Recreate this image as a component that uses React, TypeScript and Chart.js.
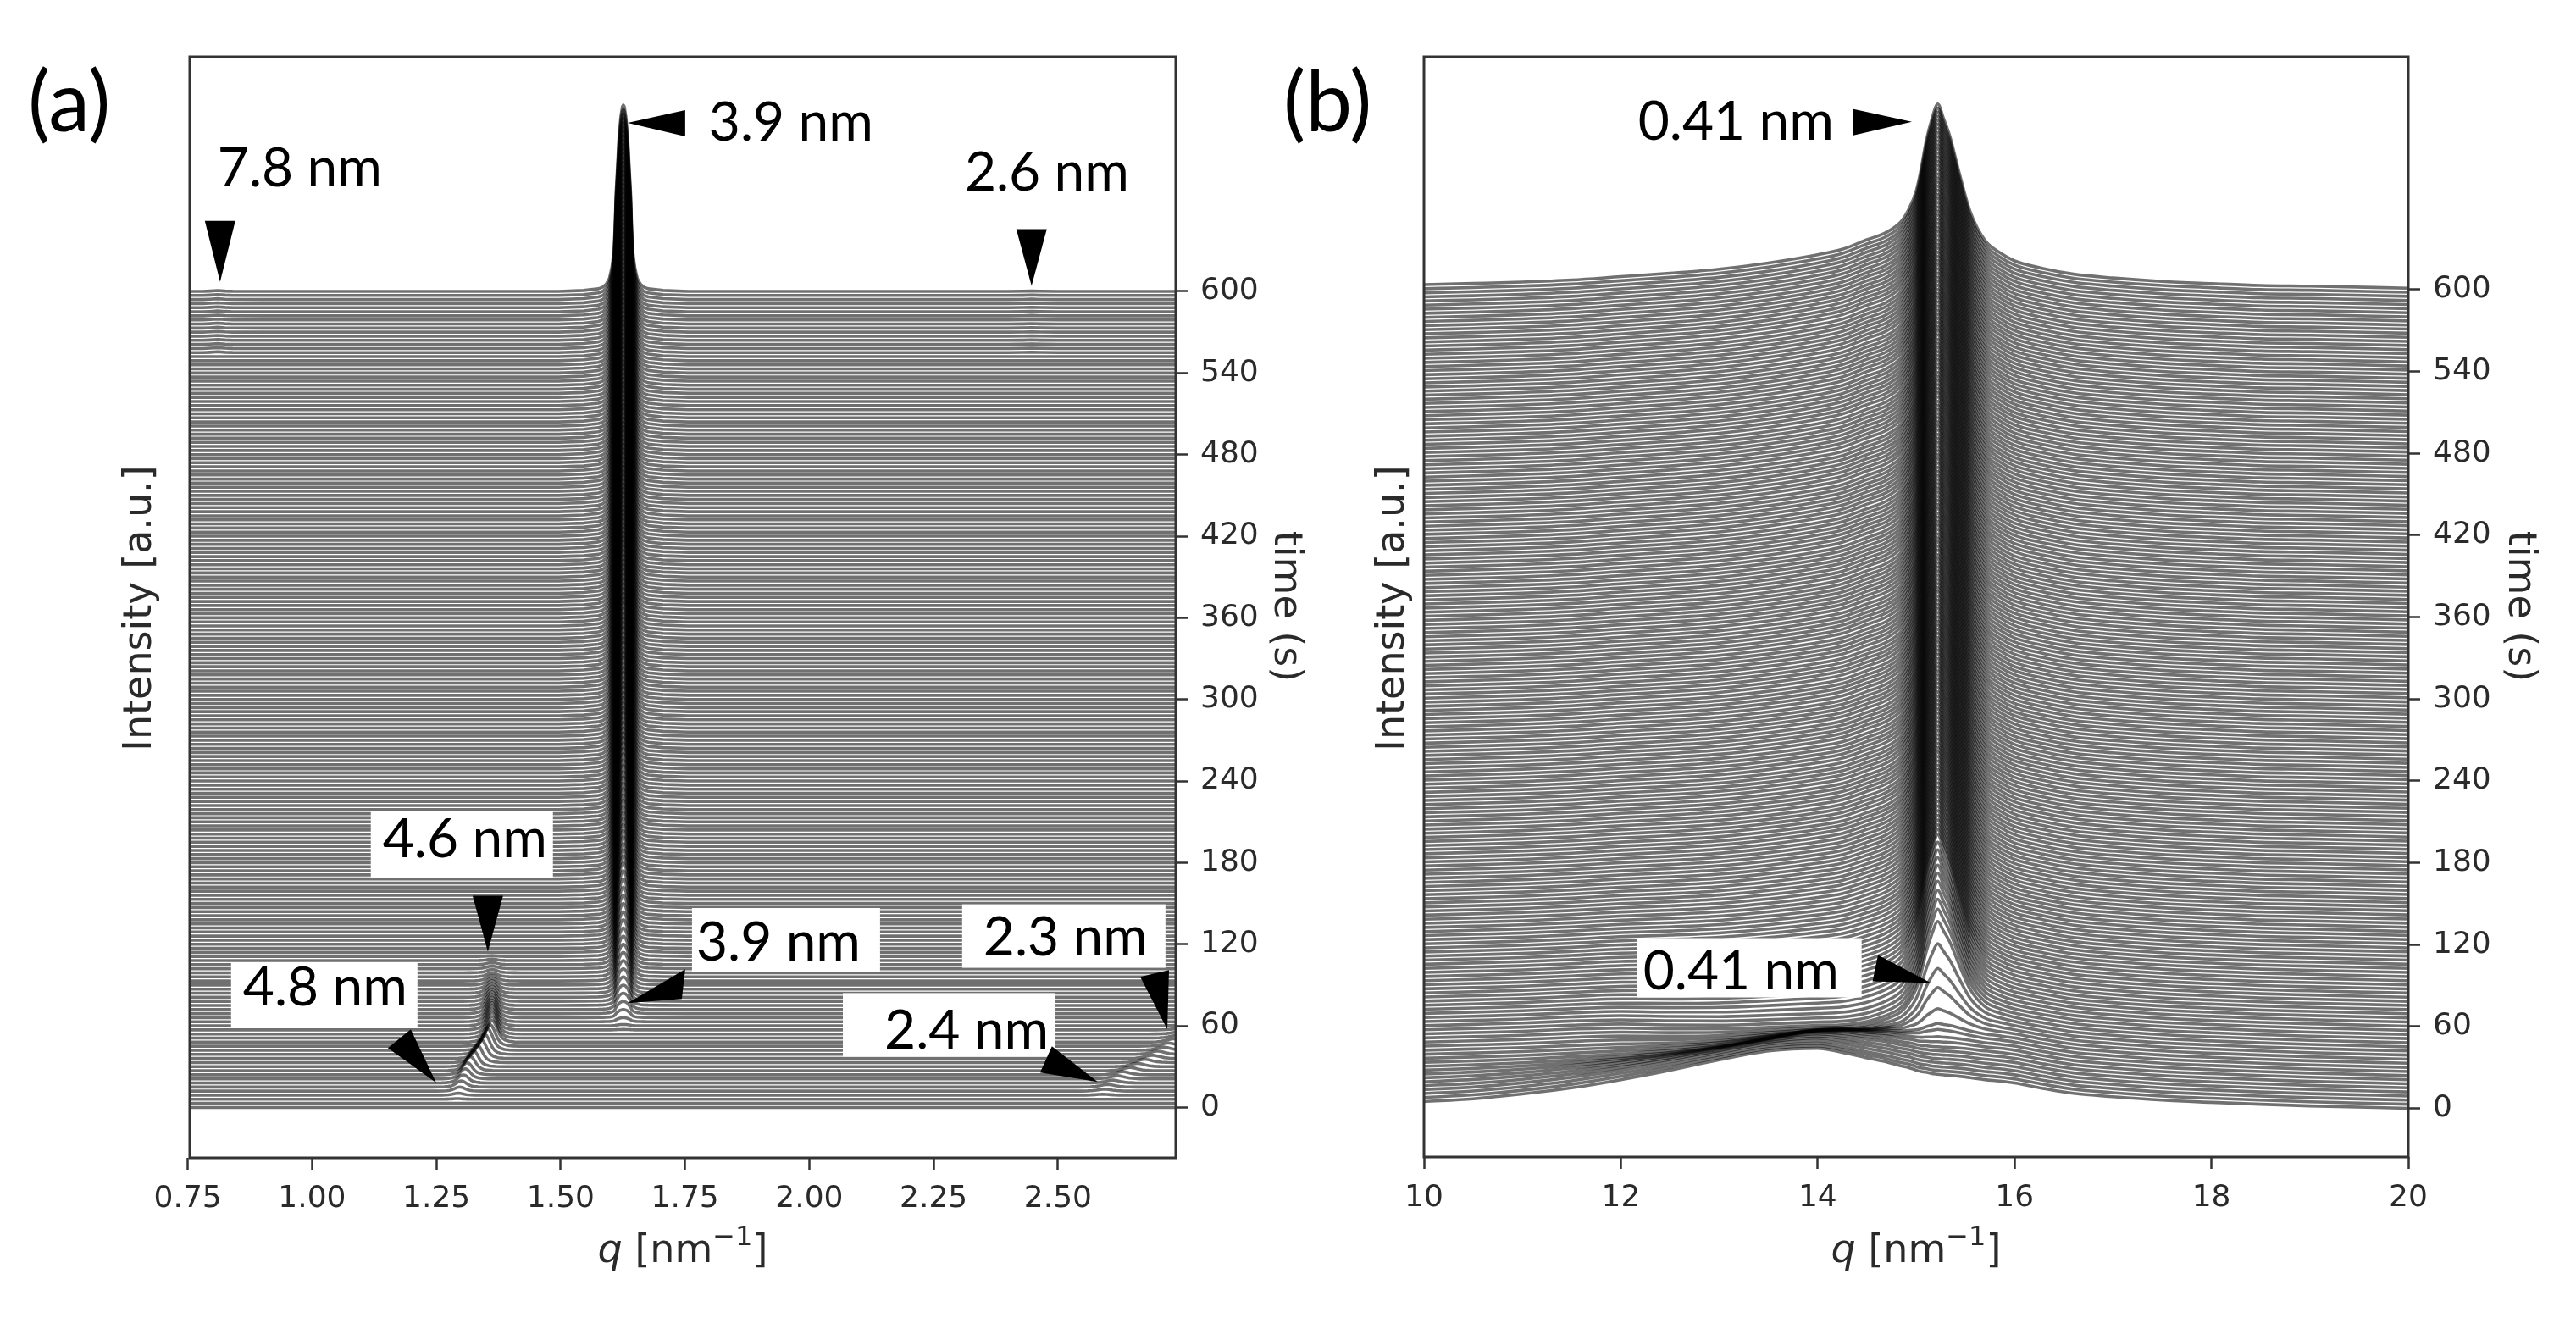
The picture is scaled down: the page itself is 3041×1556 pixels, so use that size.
import React, { useEffect, useRef } from "react";
import { Chart, registerables } from "chart.js";

Chart.register(...registerables);

// Time stamp of every trace of the waterfall (s); one trace every 3 s, both panels.
const traceTimes = [
  0,3,6,9,12,15,18,21,24,27,30,33,36,39,42,45,48,51,54,57,60,63,66,69,72,75,78,81,84,87,90,93,96,99,
  102,105,108,111,114,117,120,123,126,129,132,135,138,141,144,147,150,153,156,159,162,165,168,171,174,177,
  180,183,186,189,192,195,198,201,204,207,210,213,216,219,222,225,228,231,234,237,240,243,246,249,252,255,
  258,261,264,267,270,273,276,279,282,285,288,291,294,297,300,303,306,309,312,315,318,321,324,327,330,333,
  336,339,342,345,348,351,354,357,360,363,366,369,372,375,378,381,384,387,390,393,396,399,402,405,408,411,
  414,417,420,423,426,429,432,435,438,441,444,447,450,453,456,459,462,465,468,471,474,477,480,483,486,489,
  492,495,498,501,504,507,510,513,516,519,522,525,528,531,534,537,540,543,546,549,552,555,558,561,564,567,
  570,573,576,579,582,585,588,591,594,597,600,
];

const timeTicks = [0, 60, 120, 180, 240, 300, 360, 420, 480, 540, 600];
const qTicksA = [0.75, 1.0, 1.25, 1.5, 1.75, 2.0, 2.25, 2.5];
const qTicksB = [10, 12, 14, 16, 18, 20];

// Panel (a): flat stretches between the peaks (q, intensity)
const flatLeftQA = [0.7, 0.78, 0.795, 0.81, 0.825, 0.84, 0.9, 1.0, 1.2];
const flatLeftIA = [0, 0, 0.25, 0.6, 0.25, 0.05, 0, 0, 0];
const flatMidQA = [1.45, 1.48];
const flatRightQA = [1.78, 2.0, 2.3, 2.4, 2.43, 2.447, 2.465, 2.5];
const flatRightIA = [0, 0, 0, 0, 0.12, 0.3, 0.12, 0];
const flatEndQA = [2.85];

// Panel (a): 3.9 nm peak, half profile (distance from the centre, fraction of the height)
const mainCentreA = 1.626;
const mainHalfDqA = [0.13, 0.08, 0.05, 0.041, 0.034, 0.028, 0.023, 0.0187, 0.0165, 0.0146, 0.0115, 0.0087, 0.005, 0.002, 0];
const mainHalfFracA = [0, 0.005, 0.014, 0.023, 0.04, 0.07, 0.13, 0.22, 0.36, 0.53, 0.68, 0.83, 0.94, 0.99, 1];
// Height of the 3.9 nm peak in each trace (in units of the time axis)
const mainHeightA = [
  0,0,0,0,0,0,0,0,0,0,0,0,0,0,0,0,0,0,0,0.3,1,3,6,9,12,15,18,21,24,27,30,33,36,39,42,45,48,51,54,57,60,
  62,63.5,65,67,68.5,70,71.5,73,74.5,76,77,78.5,79.5,81,82,83.5,84.5,86,87,88,
  89,89.5,90,91,91.5,92.5,93,93.5,94.5,95,96,96.5,97,98,98.5,99,100,100.5,101,102,
  102.5,103,104,104.5,105,105.5,106,107,107.5,108,108.5,109,109.5,110,110.5,111,111.5,112,112.5,113,
  113.3,113.5,113.8,114,114.2,114.5,114.7,115,115.2,115.4,115.7,115.9,116.2,116.4,116.6,116.9,117.1,117.4,117.6,117.8,
  118.1,118.3,118.6,118.8,119,119.3,119.5,119.8,120,120.2,120.5,120.7,121,121.2,121.4,121.7,121.9,122.2,122.4,122.6,
  122.9,123.1,123.4,123.6,123.8,124.1,124.3,124.6,124.8,125,125.3,125.5,125.8,126,126.2,126.5,126.7,127,127.2,127.4,
  127.7,127.9,128.2,128.4,128.6,128.9,129.1,129.4,129.6,129.8,130.1,130.3,130.6,130.8,131,131.3,131.5,131.8,132,132.2,
  132.5,132.7,133,133.2,133.4,133.7,133.9,134.2,134.4,134.6,134.9,135.1,135.4,135.6,135.8,136.1,136.3,136.6,136.8,137,
];

// Panel (a): 4.8 -> 4.6 nm peak, half profile, then centre and height per trace
const lamHalfDqA = [0.06, 0.045, 0.034, 0.026, 0.02, 0.016, 0.012, 0.008, 0.004, 0];
const lamHalfFracA = [0, 0.01, 0.04, 0.1, 0.2, 0.33, 0.52, 0.75, 0.93, 1];
const lamCentreA = [1.29,1.29,1.292,1.294,1.297,1.3,1.304,1.308,1.312,1.318,1.324,1.332,1.34,1.347,1.353,1.358,1.362];
const lamHeightA = [0,0,0.5,1.5,3,4.5,6,7.5,9,10.5,12,13,14,15,16,16,16,16,16,15.5,15,14,13,12,11,10,9,8,7,6,5,4,3,2.5,2,1.5,1,0.5,0];

// Panel (a): 2.4 -> 2.3 nm peak, half profile, then centre and height per trace
const smallHalfDqA = [0.06, 0.045, 0.034, 0.024, 0.016, 0.008, 0];
const smallHalfFracA = [0, 0.03, 0.1, 0.25, 0.5, 0.8, 1];
const smallCentreA = [2.59,2.59,2.59,2.59,2.594,2.6,2.61,2.62,2.63,2.645,2.66,2.675,2.69,2.7,2.712,2.722,2.732,2.738,2.742];
const smallHeightA = [0,0,0,0.8,1.5,2,2.2,2.4,2.5,2.5,2.5,2.5,2.5,2.5,2.5,2.5,2.5,2,1.5,1,0.5,0];

// Panel (b): common q positions and the profiles read on them
const qGridB = [10,10.5,11,11.5,12,12.5,13,13.5,14,14.25,14.5,14.7,14.85,14.92,15,15.05,15.1,15.16,15.22,15.28,15.34,15.44,15.55,15.7,15.85,16,16.3,16.6,17,17.5,18,18.5,19,20];
const floorB = [3.6,4.5,5.5,7,7.5,6,5,5,5,5,5,6,8,9,11,12,13,15,17,18,19,20.5,21.5,21,20,18.6,14.5,11,8.5,6,4.4,3,1.8,0];
const humpLowQB = [1.4,2.5,5,8,12,16,19,18,12,8,5,3,2,1.5,1,0.8,0.6,0.4,0.2,0,0,0,0,0,0,0,0,0,0,0,0,0,0,0];
const humpHighQB = [0,0,0,0,1.5,6,11.5,19,27,28,27,25,21,19.5,16,14.2,12.9,10.1,7.8,6.5,5.2,3,1,0,0,0,0,0,0,0,0,0,0,0];
const wingsB = [0,0,0,0,2,6,10,14.5,20.5,24.5,29,28.5,29,29,28,28,27,25,23,22,20.5,16.5,12.5,8,5,2.4,0.8,0.3,0,0,0,0,0.7,1];
const coreB = [0,0,0,0,0,0,0,0,0,0,2.5,7.5,13,20,33,48,68,85,96,85,73.5,48,23,7,2,0,0,0,0,0,0,0,0,0];

// Panel (b): how much of each profile is present in each trace
const humpLowShare = [1,0.95,0.9,0.84,0.76,0.66,0.56,0.44,0.3,0.18,0.1,0.05,0.02,0];
const humpHighShare = [1,0.98,0.96,0.95,0.94,0.93,0.92,0.9,0.88,0.84,0.78,0.7,0.6,0.48,0.36,0.26,0.17,0.1,0.05,0.02,0];
const coreShare = [0,0,0,0,0,0,0,0,0.01,0.02,0.05,0.07,0.16,0.3,0.42,0.58,0.72,0.78,0.82,0.85,0.88,0.9,0.92,0.94,0.96,0.98,1];
const wingsShare = [
  0,0,0,0,0,0,0,0,0,0,0,0,0,0,0.02,0.04,0.07,0.1,0.14,0.18,0.22,0.26,0.3,0.33,0.36,0.39,0.42,0.45,0.47,0.49,
  0.51,0.53,0.55,0.57,0.585,0.6,0.615,0.63,0.64,0.65,0.66,0.67,0.68,0.69,0.7,0.71,0.72,0.73,0.735,0.74,0.75,
  0.755,0.76,0.765,0.77,0.775,0.78,0.785,0.79,0.795,0.8,0.8,0.8,0.81,0.81,0.81,0.81,0.82,0.82,0.82,0.82,0.82,
  0.83,0.83,0.83,0.83,0.83,0.84,0.84,0.84,0.84,0.84,0.85,0.85,0.85,0.85,0.85,0.86,0.86,0.86,0.86,0.86,0.87,
  0.87,0.87,0.87,0.87,0.88,0.88,0.88,0.88,0.88,0.89,0.89,0.89,0.89,0.89,0.9,0.9,0.9,0.9,0.9,0.9,0.91,0.91,
  0.91,0.91,0.91,0.91,0.91,0.91,0.92,0.92,0.92,0.92,0.92,0.92,0.92,0.92,0.93,0.93,0.93,0.93,0.93,0.93,0.93,
  0.94,0.94,0.94,0.94,0.94,0.94,0.94,0.94,0.95,0.95,0.95,0.95,0.95,0.95,0.95,0.95,0.96,0.96,0.96,0.96,0.96,
  0.96,0.96,0.96,0.97,0.97,0.97,0.97,0.97,0.97,0.97,0.97,0.98,0.98,0.98,0.98,0.98,0.98,0.98,0.98,0.99,0.99,
  0.99,0.99,0.99,0.99,0.99,0.99,1,1,1,1,1,1,1,1,
];

// Labels and arrows, anchored in data coordinates (q, time) with small pixel offsets
const labelsA = [
  { text: "3.9 nm", q: 1.798, t: 711 },
  { text: "7.8 nm", q: 0.81, t: 677 },
  { text: "2.6 nm", q: 2.3126, t: 674 },
  { text: "4.6 nm", q: 1.142, t: 184, box: [-14, -54, 215, 79] },
  { text: "4.8 nm", q: 0.861, t: 75, box: [-14, -50, 220, 75] },
  { text: "3.9 nm", q: 1.7726, t: 108, box: [-5, -62, 222, 75] },
  { text: "2.3 nm", q: 2.35, t: 112, box: [-25, -60, 240, 75] },
  { text: "2.4 nm", q: 2.151, t: 43, box: [-49, -66, 251, 75] },
];
const arrowsA = [
  { q: 1.6346, t: 724, base: [[68, -15], [68, 16]] },
  { q: 0.815, t: 607, base: [[-18, -72], [18, -72]] },
  { q: 2.447, t: 604, base: [[-18, -67], [18, -67]] },
  { q: 1.3535, t: 114.6, base: [[-18, -66], [18, -66]] },
  { q: 1.2496, t: 18.2, base: [[-30, -63], [-57, -41]] },
  { q: 1.6346, t: 76.7, base: [[68, -40], [64, -5]] },
  { q: 2.72, t: 57.4, base: [[-32, -62], [2, -70]] },
  { q: 2.58, t: 18.8, base: [[-54, -42], [-68, -11]] },
];
const labelsB = [
  { text: "0.41 nm", q: 12.175, t: 710 },
  { text: "0.41 nm", q: 12.226, t: 87.5, box: [-7.5, -60, 265.5, 70] },
];
const arrowsB = [
  { q: 14.957, t: 723, base: [[-69, -15], [-69, 16]] },
  { q: 15.151, t: 91.8, base: [[-62.5, -33], [-69, -2]] },
];

const mirror = (half: number[], sign: number) => [
  ...half.map((v) => -sign * v),
  ...half.slice(0, -1).reverse().map((v) => sign * v),
];
const mirrorFrac = (half: number[]) => [...half, ...half.slice(0, -1).reverse()];

const at = (list: number[], i: number) => (i < list.length ? list[i] : list[list.length - 1]);

function peakPoints(centre: number, height: number, halfDq: number[], halfFrac: number[], t: number) {
  const dq = mirror(halfDq, 1);
  const fr = mirrorFrac(halfFrac);
  return dq.map((d, k) => ({ x: centre + d, y: t + height * fr[k] }));
}

function traceA(i: number) {
  const t = traceTimes[i];
  const late = i >= 185 ? 1 : 0;
  return [
    ...flatLeftQA.map((x, k) => ({ x, y: t + late * flatLeftIA[k] })),
    ...peakPoints(at(lamCentreA, i), at(lamHeightA, i), lamHalfDqA, lamHalfFracA, t),
    ...flatMidQA.map((x) => ({ x, y: t })),
    ...peakPoints(mainCentreA, at(mainHeightA, i), mainHalfDqA, mainHalfFracA, t),
    ...flatRightQA.map((x, k) => ({ x, y: t + late * flatRightIA[k] })),
    ...peakPoints(at(smallCentreA, i), at(smallHeightA, i), smallHalfDqA, smallHalfFracA, t),
    ...flatEndQA.map((x) => ({ x, y: t })),
  ];
}

function traceB(i: number) {
  const t = traceTimes[i];
  return qGridB.map((x, k) => ({
    x,
    y:
      t +
      floorB[k] +
      at(humpLowShare, i) * humpLowQB[k] +
      at(humpHighShare, i) * humpHighQB[k] +
      at(wingsShare, i) * wingsB[k] +
      at(coreShare, i) * coreB[k],
  }));
}

const TICK_FONT = "DejaVu Sans";
const INK = "#2a2a2a";

function makePlugin(p: any) {
  return {
    id: "panelDecor",
    afterDatasetsDraw(chart: any) {
      const { ctx, chartArea: a, scales } = chart;
      const px = (q: number) => scales.x.getPixelForValue(q);
      const py = (t: number) => scales.y.getPixelForValue(t);
      ctx.save();
      // spines
      ctx.strokeStyle = "#333";
      ctx.lineWidth = 3;
      ctx.strokeRect(a.left, a.top, a.right - a.left, a.bottom - a.top);
      // white boxes first, then arrows, then text
      ctx.fillStyle = "#fff";
      p.labels.forEach((l: any) => {
        if (l.box) ctx.fillRect(px(l.q) + l.box[0], py(l.t) + l.box[1], l.box[2], l.box[3]);
      });
      ctx.fillStyle = "#000";
      p.arrows.forEach((w: any) => {
        const x = px(w.q), y = py(w.t);
        ctx.beginPath();
        ctx.moveTo(x, y);
        ctx.lineTo(x + w.base[0][0], y + w.base[0][1]);
        ctx.lineTo(x + w.base[1][0], y + w.base[1][1]);
        ctx.closePath();
        ctx.fill();
      });
      ctx.font = "64px Lato";
      ctx.textAlign = "left";
      ctx.textBaseline = "alphabetic";
      p.labels.forEach((l: any) => ctx.fillText(l.text, px(l.q), py(l.t)));
      // panel letter
      ctx.font = "98px Lato";
      ctx.fillText(p.letter, p.letterX, 155);
      // axis titles
      ctx.fillStyle = INK;
      const titleFont = `46px "${TICK_FONT}"`;
      ctx.font = titleFont;
      ctx.save();
      ctx.translate(p.intensityX, 718);
      ctx.rotate(-Math.PI / 2);
      ctx.textAlign = "center";
      ctx.fillText("Intensity [a.u.]", 0, 0);
      ctx.restore();
      ctx.save();
      ctx.translate(p.timeX, 716);
      ctx.rotate(Math.PI / 2);
      ctx.textAlign = "center";
      ctx.fillText("time (s)", 0, 0);
      ctx.restore();
      // q [nm^-1]
      const parts: [string, string, number][] = [
        ["q", `italic 46px "${TICK_FONT}"`, 0],
        [" [nm", titleFont, 0],
        ["\u22121", `32px "${TICK_FONT}"`, -20],
        ["]", titleFont, 0],
      ];
      let w = 0;
      parts.forEach(([s, f]) => { ctx.font = f; w += ctx.measureText(s).width; });
      let x = (a.left + a.right) / 2 - w / 2;
      parts.forEach(([s, f, dy]) => {
        ctx.font = f;
        ctx.fillText(s, x, 1490 + dy);
        x += ctx.measureText(s).width;
      });
      ctx.restore();
    },
  };
}

function Panel(p: any) {
  const ref = useRef<HTMLCanvasElement>(null);
  useEffect(() => {
    const chart = new Chart(ref.current as HTMLCanvasElement, {
      type: "line",
      data: {
        datasets: traceTimes.map((t, i) => ({
          label: `${t} s`,
          data: p.trace(i),
          borderColor: "rgba(0,0,0,0.56)",
          borderWidth: p.lineWidth,
          borderJoinStyle: "round",
          pointRadius: 0,
          fill: false,
          cubicInterpolationMode: p.smooth ? "monotone" : "default",
        })),
      } as any,
      options: {
        responsive: false,
        animation: false,
        devicePixelRatio: 1,
        events: [],
        layout: { padding: p.padding },
        plugins: { legend: { display: false }, tooltip: { enabled: false }, title: { display: false } },
        scales: {
          x: {
            type: "linear",
            min: p.qMin,
            max: p.qMax,
            afterFit: (s: any) => { s.height = 100; },
            afterBuildTicks: (s: any) => { s.ticks = p.qTicks.map((value: number) => ({ value })); },
            border: { display: false },
            grid: { drawOnChartArea: false, drawTicks: true, tickLength: 14, tickWidth: 2.5, tickColor: "#333" },
            ticks: {
              autoSkip: false, maxRotation: 0, padding: 13, color: INK,
              font: { family: TICK_FONT, size: 36 },
              callback: p.qFormat,
            },
          },
          y: {
            type: "linear",
            position: "right",
            min: p.tMin,
            max: p.tMax,
            afterFit: (s: any) => { s.width = 100; },
            afterBuildTicks: (s: any) => { s.ticks = timeTicks.map((value) => ({ value })); },
            border: { display: false },
            grid: { drawOnChartArea: false, drawTicks: true, tickLength: 14, tickWidth: 2.5, tickColor: "#333" },
            ticks: {
              autoSkip: false, padding: 15, color: INK,
              font: { family: TICK_FONT, size: 36 },
              callback: (v: any) => String(v),
            },
          },
        },
      } as any,
      plugins: [makePlugin(p)],
    });
    return () => chart.destroy();
  }, []);
  return (
    <canvas
      ref={ref}
      width={p.width}
      height={1556}
      style={{ position: "absolute", left: p.left, top: 0, width: p.width, height: 1556, filter: "blur(0.6px)" }}
    />
  );
}

export default function App() {
  return (
    <div style={{ position: "absolute", left: 0, top: 0, width: 3041, height: 1556, overflow: "hidden", background: "#fff" }}>
      <Panel
        left={0}
        width={1600}
        padding={{ left: 224, right: 112, top: 67, bottom: 89 }}
        qMin={0.754}
        qMax={2.737}
        tMin={-37.1}
        tMax={772.5}
        qTicks={qTicksA}
        qFormat={(v: any) => Number(v).toFixed(2)}
        trace={traceA}
        lineWidth={3.6}
        smooth={false}
        labels={labelsA}
        arrows={arrowsA}
        letter="(a)"
        letterX={33}
        intensityX={178}
        timeX={1505}
      />
      <Panel
        left={1500}
        width={1541}
        padding={{ left: 181, right: 98, top: 67, bottom: 90 }}
        qMin={10}
        qMax={20}
        tMin={-35.7}
        tMax={770.6}
        qTicks={qTicksB}
        qFormat={(v: any) => String(v)}
        trace={traceB}
        lineWidth={3.6}
        smooth={true}
        labels={labelsB}
        arrows={arrowsB}
        letter="(b)"
        letterX={15}
        intensityX={157}
        timeX={1462}
      />
    </div>
  );
}
